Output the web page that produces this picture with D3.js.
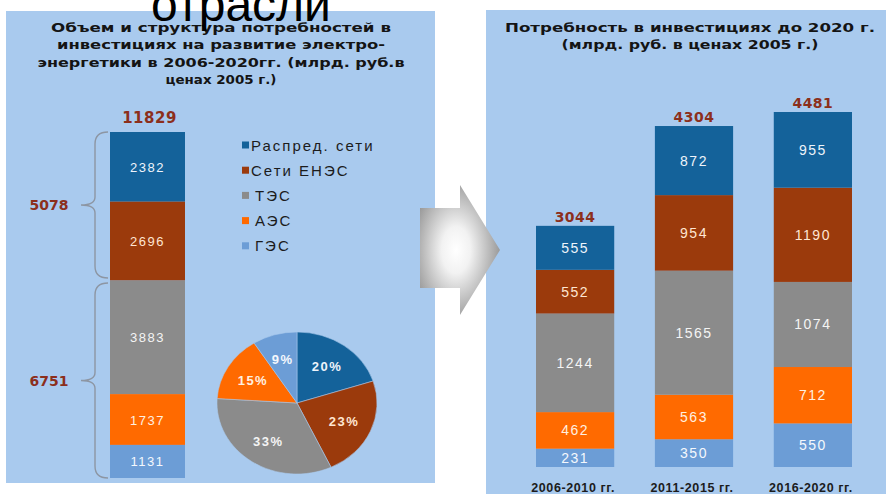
<!DOCTYPE html>
<html>
<head>
<meta charset="utf-8">
<script src="https://cdn.jsdelivr.net/npm/d3@7"></script>
<style>
  body { margin: 0; background: #fff; }
  svg { display: block; }
</style>
</head>
<body>
<svg width="886" height="494"></svg>
<script>
// категории (сверху вниз в столбце)
const categories = ["Распред. сети", "Сети ЕНЭС", "ТЭС", "АЭС", "ГЭС"];
const colors = ["#14629a", "#9b3a0c", "#8b8b8b", "#ff6a00", "#6c9dd6"];

// левый столбец 2006-2020
const totalValues = [2382, 2696, 3883, 1737, 1131];
const grandTotal = 11829;
const groupTotals = [5078, 6751];
const pieShares = [20, 23, 33, 15, 9];

// правая диаграмма по периодам
const periods = ["2006-2010 гг.", "2011-2015 гг.", "2016-2020 гг."];
const raspred = [555, 872, 955];
const setiEnes = [552, 954, 1190];
const tes = [1244, 1565, 1074];
const aes = [462, 563, 712];
const ges = [231, 350, 550];
const periodTotals = [3044, 4304, 4481];

const leftTitle = ["Объем и структура потребностей в", "инвестициях на развитие электро-",
    "энергетики в 2006-2020гг. (млрд. руб.в", "ценах 2005 г.)"];
const rightTitle = ["Потребность в  инвестициях до 2020 г.", "(млрд. руб. в ценах 2005 г.)"];

const svg = d3.select("svg");
const totalColor = "#8c2f1c";
const labelColors = ["#eef4fb", "#ffe6d2", "#f4f4f4", "#fff0e0", "#f4f8fd"];

// панели
svg.append("rect").attr("x", 6).attr("y", 11).attr("width", 429).attr("height", 472).attr("fill", "#a9caee");
svg.append("rect").attr("x", 486).attr("y", 10).attr("width", 400).attr("height", 484).attr("fill", "#a9caee");

// заголовки панелей
const titleFont = "'DejaVu Sans', sans-serif";
const leftWidths = [340, 328, 367, 111];
svg.append("g").selectAll("text")
    .data(leftTitle)
    .join("text")
    .attr("x", 221)
    .attr("y", (d, i) => 32 + i * 17.3)
    .attr("text-anchor", "middle")
    .attr("textLength", (d, i) => leftWidths[i])
    .attr("lengthAdjust", "spacingAndGlyphs")
    .style("font-family", titleFont)
    .style("font-weight", "bold")
    .style("font-size", "12.5px")
    .attr("fill", "#141414")
    .text(d => d);

const rightWidths = [370, 257];
svg.append("g").selectAll("text")
    .data(rightTitle)
    .join("text")
    .attr("x", 690)
    .attr("y", (d, i) => 32 + i * 17)
    .attr("text-anchor", "middle")
    .attr("textLength", (d, i) => rightWidths[i])
    .attr("lengthAdjust", "spacingAndGlyphs")
    .style("font-family", titleFont)
    .style("font-weight", "bold")
    .style("font-size", "12.5px")
    .attr("fill", "#141414")
    .text(d => d);

// левый столбец
const yLeft = d3.scaleLinear().domain([0, grandTotal]).range([478, 132]);
const leftX = 110, leftW = 75;
let acc = grandTotal;
const leftSegs = totalValues.map((v, i) => {
    const seg = {value: v, top: acc, bottom: acc - v, i: i};
    acc -= v;
    return seg;
});

const leftG = svg.append("g");
leftG.selectAll("rect")
    .data(leftSegs)
    .join("rect")
    .attr("x", leftX)
    .attr("y", d => yLeft(d.top))
    .attr("width", leftW)
    .attr("height", d => yLeft(d.bottom) - yLeft(d.top))
    .attr("fill", d => colors[d.i]);

leftG.selectAll("text")
    .data(leftSegs)
    .join("text")
    .attr("x", leftX + leftW / 2)
    .attr("y", d => (yLeft(d.top) + yLeft(d.bottom)) / 2 + 5)
    .attr("text-anchor", "middle")
    .style("font-family", "'Liberation Sans', Arial, sans-serif")
    .style("font-size", "13px")
    .style("letter-spacing", "1.5px")
    .attr("fill", d => labelColors[d.i])
    .text(d => d.value);

svg.append("text")
    .attr("x", leftX + leftW / 2 + 2)
    .attr("y", yLeft(grandTotal) - 9)
    .attr("text-anchor", "middle")
    .style("font-family", titleFont)
    .style("font-weight", "bold")
    .style("font-size", "15px")
    .style("letter-spacing", "0.5px")
    .attr("fill", totalColor)
    .text(grandTotal);

// фигурные скобки
function brace(y1, y2) {
    const x0 = 108, xm = 95, xt = 81, r = 12, ym = (y1 + y2) / 2;
    return `M${x0},${y1} Q${xm},${y1} ${xm},${y1 + r} L${xm},${ym - 8} Q${xm},${ym} ${xt},${ym}` +
        ` Q${xm},${ym} ${xm},${ym + 8} L${xm},${y2 - r} Q${xm},${y2} ${x0},${y2}`;
}
const braces = [
    {label: groupTotals[0], y1: yLeft(grandTotal), y2: yLeft(groupTotals[1]) - 2.5},
    {label: groupTotals[1], y1: yLeft(groupTotals[1]) + 2.5, y2: yLeft(0)}
];
svg.append("g").selectAll("path")
    .data(braces)
    .join("path")
    .attr("d", d => brace(d.y1, d.y2))
    .attr("fill", "none")
    .attr("stroke", "#8d96a3")
    .attr("stroke-width", 1.4);
svg.append("g").selectAll("text")
    .data(braces)
    .join("text")
    .attr("x", 49)
    .attr("y", d => (d.y1 + d.y2) / 2 + 5)
    .attr("text-anchor", "middle")
    .style("font-family", titleFont)
    .style("font-weight", "bold")
    .style("font-size", "14px")
    .attr("fill", totalColor)
    .text(d => d.label);

// легенда
const legend = svg.append("g").selectAll("g")
    .data(categories)
    .join("g")
    .attr("transform", (d, i) => `translate(242, ${145 + i * 25.2})`);
legend.append("rect")
    .attr("x", 0).attr("y", -3.5)
    .attr("width", 7).attr("height", 7)
    .attr("fill", (d, i) => colors[i]);
legend.append("text")
    .attr("x", (d, i) => i < 2 ? 9 : 13)
    .attr("y", 5.5)
    .style("font-family", "'Liberation Sans', Arial, sans-serif")
    .style("font-size", "15px")
    .style("letter-spacing", "2px")
    .attr("fill", "#1c1c1c")
    .text(d => d);

// круговая диаграмма
const pcx = 297, pcy = 403, rx = 80, ry = 71;
const pie = d3.pie().sort(null).value(d => d);
const arc = d3.arc().innerRadius(0).outerRadius(rx);
const labelArc = d3.arc().innerRadius(rx * 0.64).outerRadius(rx * 0.64);
const arcs = pie(pieShares);
svg.append("g")
    .attr("transform", `translate(${pcx},${pcy}) scale(1,${ry / rx})`)
    .selectAll("path")
    .data(arcs)
    .join("path")
    .attr("d", arc)
    .attr("fill", (d, i) => colors[i])
    .attr("stroke", "#a9caee")
    .attr("stroke-width", 0.6);
svg.append("g").selectAll("text")
    .data(arcs)
    .join("text")
    .attr("x", d => pcx + labelArc.centroid(d)[0])
    .attr("y", d => pcy + labelArc.centroid(d)[1] * ry / rx + 5)
    .attr("text-anchor", "middle")
    .style("font-family", "'Liberation Sans', Arial, sans-serif")
    .style("font-weight", "bold")
    .style("font-size", "13px")
    .style("letter-spacing", "1.5px")
    .attr("fill", (d, i) => labelColors[i])
    .text(d => d.data + "%");

// стрелка
const defs = svg.append("defs");
const grad = defs.append("radialGradient").attr("id", "arrowGrad")
    .attr("cx", "0.45").attr("cy", "0.5").attr("r", "0.6");
grad.append("stop").attr("offset", "0").attr("stop-color", "#ffffff");
grad.append("stop").attr("offset", "0.3").attr("stop-color", "#f2f2f2");
grad.append("stop").attr("offset", "1").attr("stop-color", "#8e8e8e");
svg.append("path")
    .attr("d", "M420,208 L460,208 L460,185 L500,250 L460,315 L460,288 L420,288 Z")
    .attr("fill", "url(#arrowGrad)");

// правые столбцы
const stackData = periods.map((p, i) => ({
    period: p, "ГЭС": ges[i], "АЭС": aes[i], "ТЭС": tes[i], "Сети ЕНЭС": setiEnes[i], "Распред. сети": raspred[i]
}));
const keys = categories.slice().reverse();
const series = d3.stack().keys(keys)(stackData);

const x = d3.scaleBand().domain(periods).range([536, 852]).paddingInner(0.342).paddingOuter(0);
const y = d3.scaleLinear().domain([0, d3.max(periodTotals)]).range([467, 112]);

const barG = svg.append("g").selectAll("g")
    .data(series)
    .join("g")
    .attr("fill", d => colors[categories.indexOf(d.key)]);
barG.selectAll("rect")
    .data(d => d)
    .join("rect")
    .attr("x", d => x(d.data.period))
    .attr("y", d => y(d[1]))
    .attr("width", x.bandwidth())
    .attr("height", d => y(d[0]) - y(d[1]));
barG.selectAll("text")
    .data(d => d.map(v => ({v: v, key: d.key})))
    .join("text")
    .attr("x", d => x(d.v.data.period) + x.bandwidth() / 2)
    .attr("y", d => (y(d.v[0]) + y(d.v[1])) / 2 + 5)
    .attr("text-anchor", "middle")
    .style("font-family", "'Liberation Sans', Arial, sans-serif")
    .style("font-size", "14px")
    .style("letter-spacing", "1.5px")
    .attr("fill", d => labelColors[categories.indexOf(d.key)])
    .text(d => d.v[1] - d.v[0]);

svg.append("g").selectAll("text")
    .data(periods)
    .join("text")
    .attr("x", d => x(d) + x.bandwidth() / 2)
    .attr("y", (d, i) => y(periodTotals[i]) - 4)
    .attr("text-anchor", "middle")
    .style("font-family", titleFont)
    .style("font-weight", "bold")
    .style("font-size", "14px")
    .style("letter-spacing", "0.5px")
    .attr("fill", totalColor)
    .text((d, i) => periodTotals[i]);

// подписи периодов
svg.append("g").selectAll("text")
    .data(periods)
    .join("text")
    .attr("x", d => x(d) + x.bandwidth() / 2 - 2)
    .attr("y", 492)
    .attr("text-anchor", "middle")
    .style("font-family", "'Liberation Sans', Arial, sans-serif")
    .style("font-weight", "bold")
    .style("font-size", "12.5px")
    .style("letter-spacing", "0.6px")
    .attr("fill", "#1c1c1c")
    .text(d => d);

// заголовок сверху
svg.append("text")
    .attr("x", 241)
    .attr("y", 21)
    .attr("text-anchor", "middle")
    .style("font-family", "'Liberation Sans', Arial, sans-serif")
    .style("font-size", "48px")
    .attr("fill", "#000")
    .text("отрасли");
</script>
</body>
</html>
